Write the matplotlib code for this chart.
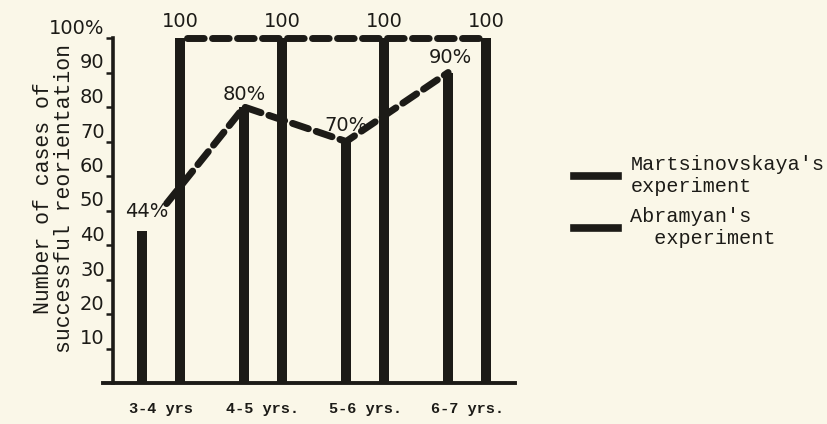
import matplotlib.pyplot as plt
from matplotlib.lines import Line2D

plt.rcParams['font.family'] = ['Liberation Mono', 'DejaVu Sans Mono']

ages = ['3-4 yrs', '4-5 yrs.', '5-6 yrs.', '6-7 yrs.']
abramyan = [44, 80, 70, 90]
martsinovskaya = [100, 100, 100, 100]
short_labels = ['44%', '80%', '70%', '90%']
yticks = [10, 20, 30, 40, 50, 60, 70, 80, 90, 100]
ytick_labels = ['10', '20', '30', '40', '50', '60', '70', '80', '90', '100%']

ink = '#1c1b17'
paper = '#FAF7E8'
num_font = ['DejaVu Sans']

fig = plt.figure(figsize=(8.27, 4.24), dpi=100, facecolor=paper)
ax = fig.add_axes([113 / 827, 41 / 424, 402 / 827, 345 / 424])
ax.set_facecolor(paper)

x = list(range(len(ages)))
off = 0.185
xa = [i - off for i in x]
xm = [i + off for i in x]
ax.bar(xa, abramyan, width=0.1, color=ink)
ax.bar(xm, martsinovskaya, width=0.1, color=ink)

# dashed lines joining the tops
dash = (0, (2.4, 1.2))
ax.plot([xm[0] + 0.07] + xm[1:], martsinovskaya, ls=dash, lw=5,
        color=ink, dash_capstyle='round', clip_on=False)
line_x = [xa[0] + 0.24] + xa[1:]
line_y = [abramyan[0] + 8] + abramyan[1:]
ax.plot(line_x, line_y, ls=dash, lw=5, color=ink, dash_capstyle='round')

label_dx = [0.05, 0.0, 0.0, 0.02]
label_dy = [3, 1, 2, 1.5]
for xi, v, lab, dx, dy in zip(xa, abramyan, short_labels, label_dx, label_dy):
    ax.text(xi + dx, v + dy, lab, ha='center', va='bottom', fontsize=14,
            color=ink, family=num_font)
for xi, v in zip(xm, martsinovskaya):
    ax.text(xi, v + 2, '100', ha='center', va='bottom', fontsize=14,
            color=ink, clip_on=False, family=num_font)

ax.set_xlim(-0.47, 3.47)
ax.set_ylim(0, 100)
ax.set_yticks(yticks)
ax.set_yticklabels(ytick_labels, fontsize=14, color=ink, family=num_font)
for t in ax.get_yticklabels():
    t.set_verticalalignment('bottom')
ax.tick_params(axis='y', length=5, width=1.8, color=ink, pad=1)
ax.set_xticks(x)
ax.set_xticklabels(ages, fontsize=11, color=ink, fontweight='bold')
ax.tick_params(axis='x', length=0, pad=14)

for s in ['top', 'right', 'bottom']:
    ax.spines[s].set_visible(False)
ax.spines['left'].set_linewidth(2.6)
ax.spines['left'].set_color(ink)
ax.plot([-0.025, 1.0], [0, 0], transform=ax.get_yaxis_transform(),
        color=ink, lw=2.8, clip_on=False)

ax.set_ylabel('Number of cases of\nsuccessful reorientation', fontsize=15.5,
              color=ink, linespacing=1.0)
ax.yaxis.set_label_coords(-0.095, 0.535)

handles = [Line2D([], [], color=ink, lw=5.5), Line2D([], [], color=ink, lw=5.5)]
fig.legend(handles, ["Martsinovskaya's\nexperiment", "Abramyan's\n  experiment"],
           loc='center left', bbox_to_anchor=(0.694, 0.525), frameon=False,
           fontsize=14.5, handlelength=2.2, labelspacing=0.55, handletextpad=0.6,
           labelcolor=ink, borderpad=0, borderaxespad=0)

fig.savefig('out.png', dpi=100, facecolor=paper)
